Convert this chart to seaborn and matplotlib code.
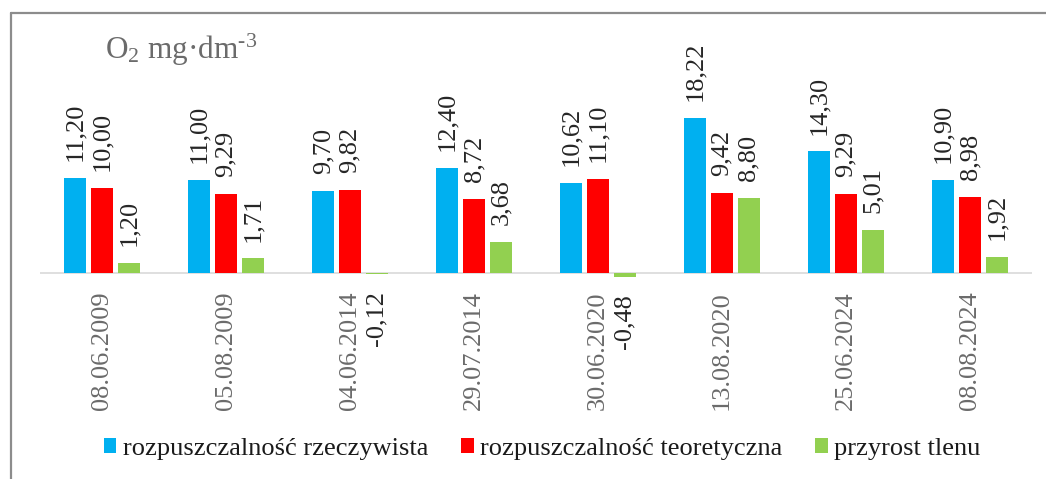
import matplotlib
matplotlib.use("Agg")
import matplotlib.pyplot as plt
import seaborn as sns
import pandas as pd
from matplotlib.lines import Line2D
from matplotlib import font_manager as fm

categories = ["08.06.2009", "05.08.2009", "04.06.2014", "29.07.2014",
              "30.06.2020", "13.08.2020", "25.06.2024", "08.08.2024"]
series_names = ["rozpuszczalność rzeczywista", "rozpuszczalność teoretyczna", "przyrost tlenu"]
real_vals = [11.20, 11.00, 9.70, 12.40, 10.62, 18.22, 14.30, 10.90]
theor_vals = [10.00, 9.29, 9.82, 8.72, 11.10, 9.42, 9.29, 8.98]
gain_vals = [1.20, 1.71, -0.12, 3.68, -0.48, 8.80, 5.01, 1.92]
colors = ["#00B0F0", "#FF0000", "#92D050"]
title_text = "O$_\\mathrm{2}$ mg·dm$^\\mathrm{\u20103}$"

sns.set_theme(style="white")
plt.rcParams['font.family'] = ['Liberation Serif', 'DejaVu Serif']
plt.rcParams['font.serif'] = ['Liberation Serif', 'DejaVu Serif']
plt.rcParams['mathtext.fontset'] = 'custom'
plt.rcParams['mathtext.rm'] = 'Liberation Serif'
plt.rcParams['mathtext.it'] = 'Liberation Serif:italic'

legend_font = fm.FontProperties(family=['Liberation Serif'], size=19)

rows = []
for name, vals in zip(series_names, [real_vals, theor_vals, gain_vals]):
    for c, v in zip(categories, vals):
        rows.append({"data": c, "seria": name, "wartosc": v})
df = pd.DataFrame(rows)

W, H = 1046, 479
fig = plt.figure(figsize=(W / 100, H / 100), dpi=100)
ax_left, ax_right = 40 / W, 1032 / W
ax_bottom, ax_top = 1 - 281.5 / H, 1 - 12.9 / H
ax = fig.add_axes([ax_left, ax_bottom, ax_right - ax_left, ax_top - ax_bottom])

sns.barplot(data=df, x="data", y="wartosc", hue="seria", order=categories,
            hue_order=series_names, palette=colors, width=0.65, gap=0.18,
            saturation=1, linewidth=0, errorbar=None, ax=ax, legend=True)

ax.set_ylim(-1, 30.6)
ax.set_xlim(-0.5, len(categories) - 0.5)
for s in ax.spines.values():
    s.set_visible(False)
ax.axhline(0, color="#D9D9D9", linewidth=1.2, zorder=0.5)
ax.set_yticks([])
ax.set_xlabel("")
ax.set_ylabel("")
ax.tick_params(axis="x", length=0, pad=7.0)
ax.set_xticks(range(len(categories)))
ax.set_xticklabels(categories, rotation=90, fontsize=19, color="#6B6B6B",
                   family=['Liberation Serif'])

for cont in ax.containers:
    vals = cont.datavalues
    labels = [f"{v:.2f}".replace(".", ",") for v in vals]
    ax.bar_label(cont, labels=labels, padding=12.2, rotation=90, fontsize=19,
                 color="#262626", family=['Liberation Serif'])

handles, labels = ax.get_legend_handles_labels()
ax.get_legend().remove()
leg = fig.legend(handles, labels, loc="center", bbox_to_anchor=(542 / W, 1 - 449 / H),
                 ncol=3, frameon=False, handlelength=0.49, handleheight=0.49,
                 handletextpad=0.23, columnspacing=1.25, prop=legend_font)
for t in leg.get_texts():
    t.set_color("#1A1A1A")

fig.text(105 / W, 1 - 59 / H, title_text, fontsize=22.5, color="#6B6B6B",
         ha="left", va="baseline")

# chart border (top and left edges visible)
fig.add_artist(Line2D([11 / W, 11 / W], [0, 1 - 12.7 / H], transform=fig.transFigure,
                      color="#8C8C8C", linewidth=1.6))
fig.add_artist(Line2D([11 / W, 1], [1 - 12.7 / H, 1 - 12.7 / H], transform=fig.transFigure,
                      color="#8C8C8C", linewidth=1.6))

fig.savefig("out.png", dpi=100, facecolor="white")
